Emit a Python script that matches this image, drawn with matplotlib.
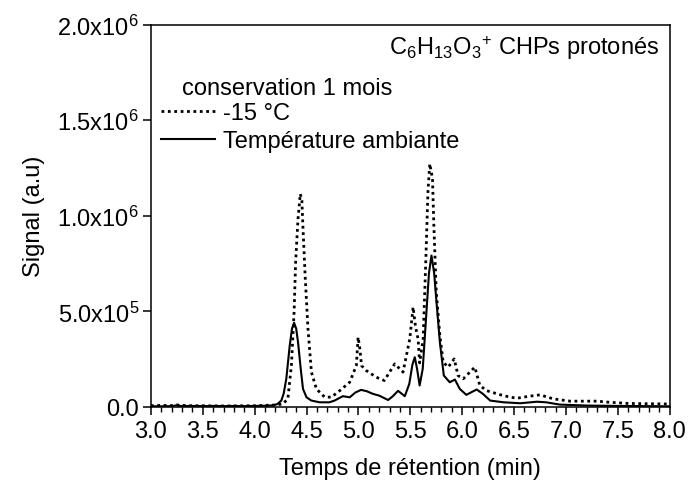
import matplotlib
matplotlib.use("Agg")
from matplotlib import pyplot as plt
from matplotlib.ticker import MultipleLocator

plt.rcParams['font.family'] = ['Liberation Sans', 'DejaVu Sans']
plt.rcParams['mathtext.fontset'] = 'custom'
plt.rcParams['mathtext.rm'] = 'Liberation Sans'
plt.rcParams['mathtext.it'] = 'Liberation Sans:italic'
plt.rcParams['mathtext.bf'] = 'Liberation Sans:bold'

# ... data (time in min, signal in a.u.)
t_cold = [3.0, 3.1, 3.2, 3.25, 3.3, 3.4, 3.5, 3.6, 3.7, 3.8, 3.9, 4.0, 4.1, 4.2,
          4.27, 4.32, 4.354, 4.38, 4.395, 4.418, 4.44, 4.455, 4.466, 4.488,
          4.514, 4.547, 4.595, 4.675, 4.74, 4.82, 4.916, 4.98, 4.997, 5.015,
          5.03, 5.076, 5.173, 5.25, 5.35, 5.43, 5.495, 5.527, 5.55, 5.575,
          5.59, 5.624, 5.65, 5.67, 5.688, 5.714, 5.727, 5.75, 5.785, 5.817,
          5.865, 5.923, 5.96, 6.01, 6.074, 6.122, 6.17, 6.235, 6.395, 6.524,
          6.65, 6.75, 6.878, 7.04, 7.3, 7.4, 7.6, 8.0]
s_cold = [6e3, 8e3, 7e3, 10e3, 8e3, 6e3, 6e3, 5e3, 5e3, 5e3, 6e3, 6e3, 8e3, 10e3,
          15e3, 42e3, 216e3, 497e3, 759e3, 984e3, 1115e3, 1080e3, 932e3, 670e3,
          408e3, 182e3, 94e3, 51e3, 51e3, 85e3, 129e3, 216e3, 365e3, 300e3,
          216e3, 190e3, 155e3, 138e3, 225e3, 182e3, 356e3, 522e3, 420e3, 356e3,
          230e3, 356e3, 775e3, 1126e3, 1272e3, 1194e3, 949e3, 602e3, 373e3, 234e3,
          208e3, 251e3, 164e3, 147e3, 182e3, 208e3, 112e3, 85e3, 59e3, 45e3,
          56e3, 63e3, 42e3, 30e3, 30e3, 25e3, 18e3, 15e3]

t_amb = [3.0, 3.1, 3.2, 3.25, 3.3, 3.4, 3.5, 3.6, 3.7, 3.8, 3.9, 4.0, 4.1, 4.18,
         4.22, 4.257, 4.28, 4.305, 4.338, 4.36, 4.38, 4.40, 4.418, 4.444, 4.466,
         4.50, 4.547, 4.627, 4.72, 4.77, 4.85, 4.916, 4.97, 5.026, 5.08, 5.14,
         5.20, 5.286, 5.33, 5.382, 5.447, 5.49, 5.52, 5.543, 5.565, 5.59, 5.62,
         5.65, 5.68, 5.704, 5.73, 5.75, 5.785, 5.823, 5.88, 5.93, 5.977, 6.04,
         6.10, 6.14, 6.20, 6.27, 6.40, 6.56, 6.72, 6.81, 6.94, 7.2, 7.5, 8.0]
s_amb = [3e3, 3e3, 4e3, 8e3, 4e3, 5e3, 4e3, 5e3, 4e3, 5e3, 4e3, 5e3, 6e3, 8e3,
         15e3, 33e3, 70e3, 147e3, 321e3, 410e3, 440e3, 410e3, 339e3, 199e3, 94e3,
         50e3, 33e3, 24e3, 24e3, 33e3, 56e3, 50e3, 75e3, 89e3, 82e3, 68e3,
         59e3, 36e3, 55e3, 84e3, 56e3, 120e3, 220e3, 260e3, 200e3, 112e3, 200e3,
         450e3, 700e3, 792e3, 700e3, 565e3, 339e3, 164e3, 129e3, 143e3, 94e3, 63e3,
         80e3, 91e3, 68e3, 33e3, 24e3, 19e3, 27e3, 24e3, 12e3, 7e3, 5e3, 3e3]

series_labels = ["-15 °C", "Température ambiante"]
ytick_vals = [0.0, 5.0e5, 1.0e6, 1.5e6, 2.0e6]
ytick_labels = ["0.0", "5.0x10$^{5}$", "1.0x10$^{6}$", "1.5x10$^{6}$", "2.0x10$^{6}$"]
xtick_vals = [3.0, 3.5, 4.0, 4.5, 5.0, 5.5, 6.0, 6.5, 7.0, 7.5, 8.0]
# ...

fs = 17
fig = plt.figure(figsize=(6.89, 4.85), dpi=100)
ax = fig.add_axes([0.219, 0.159, 0.753, 0.788])

ax.plot(t_cold, s_cold, color="black", lw=2.0, linestyle=(0, (1, 1.3)),
        label=series_labels[0])
ax.plot(t_amb, s_amb, color="black", lw=1.5, label=series_labels[1])

ax.set_xlim(3.0, 8.0)
ax.set_ylim(0, 2.0e6)
ax.set_xticks(xtick_vals)
ax.set_xticklabels(["%.1f" % v for v in xtick_vals])
ax.xaxis.set_minor_locator(MultipleLocator(0.1))
ax.set_yticks(ytick_vals)
ax.set_yticklabels(ytick_labels)

for sp in ax.spines.values():
    sp.set_linewidth(1.1)
ax.tick_params(axis="both", which="major", direction="out", length=5.5,
               width=1.1, labelsize=fs, top=False, right=False)
ax.tick_params(axis="x", which="major", pad=4)
ax.tick_params(axis="y", which="major", pad=3)
ax.tick_params(axis="x", which="minor", direction="out", length=3.5, width=1.0)

ax.set_xlabel("Temps de rétention (min)", fontsize=fs, labelpad=11)
ax.set_ylabel("Signal (a.u)", fontsize=fs, labelpad=9)

ax.text(0.979, 0.978, "C$_{6}$H$_{13}$O$_{3}$$^{+}$ CHPs protonés",
        transform=ax.transAxes, ha="right", va="top", fontsize=fs)
ax.text(0.06, 0.835, "conservation 1 mois", transform=ax.transAxes,
        ha="left", va="center", fontsize=fs)
ax.legend(loc="upper left", bbox_to_anchor=(0.019, 0.797), frameon=False,
          fontsize=fs, borderpad=0, borderaxespad=0, handlelength=2.3,
          handletextpad=0.35, labelspacing=0.25)

plt.savefig("out.png", dpi=100)
